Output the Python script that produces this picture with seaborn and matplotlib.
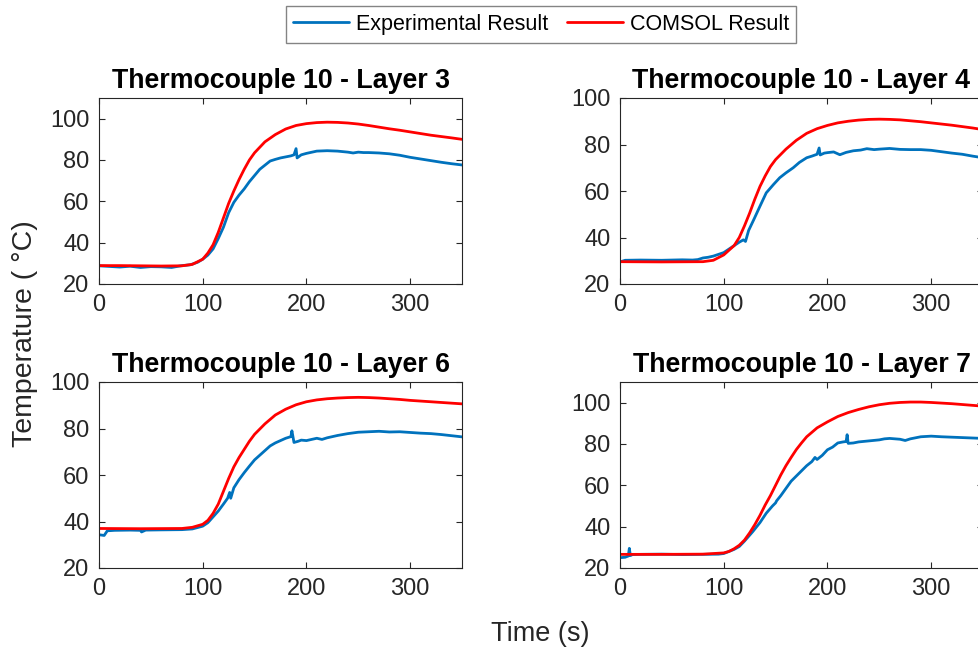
import numpy as np
import pandas as pd
import matplotlib
matplotlib.use("Agg")
import matplotlib.pyplot as plt
import seaborn as sns

# ---------------- data ----------------
titles = ["Thermocouple 10 - Layer 3", "Thermocouple 10 - Layer 4",
          "Thermocouple 10 - Layer 6", "Thermocouple 10 - Layer 7"]
series_names = ["Experimental Result", "COMSOL Result"]
x_ticks = [0, 100, 200, 300]
y_ticks = [20, 40, 60, 80, 100]
y_tops = [110, 100, 100, 110]

# Layer 3
l3_exp_t = [0, 10, 20, 30, 40, 50, 60, 70, 80, 88, 95, 100, 105, 110, 115, 120, 125, 130, 135, 140,
            145, 150, 155, 160, 165, 170, 175, 180, 185, 188, 190, 191, 195, 200, 210, 220, 230, 240,
            245, 250, 255, 260, 270, 280, 290, 300, 310, 320, 330, 340, 350]
l3_exp_T = [28.8, 28.5, 28.2, 28.6, 28.0, 28.4, 28.3, 28.0, 28.9, 29.3, 30.5, 32.0, 34.0, 37.0, 42.0,
            47.5, 54.5, 59.5, 63.0, 66.0, 69.5, 72.5, 75.5, 77.5, 79.5, 80.3, 81.0, 81.5, 82.0, 82.5,
            85.5, 81.0, 82.5, 83.2, 84.3, 84.5, 84.3, 83.8, 83.4, 83.8, 83.6, 83.6, 83.4, 83.0, 82.3,
            81.3, 80.5, 79.7, 78.9, 78.2, 77.6]
l3_sim_t = [0, 20, 40, 60, 80, 90, 100, 105, 110, 115, 120, 125, 130, 135, 140, 145, 150, 160, 170,
            180, 190, 200, 210, 220, 230, 240, 250, 260, 270, 280, 290, 300, 320, 340, 350]
l3_sim_T = [28.9, 28.9, 28.8, 28.7, 28.8, 29.5, 32.0, 35.0, 39.0, 45.0, 52.0, 59.0, 65.0, 70.5, 75.5,
            80.0, 83.5, 88.8, 92.3, 95.0, 96.7, 97.6, 98.1, 98.3, 98.2, 97.9, 97.4, 96.7, 95.9, 95.1,
            94.4, 93.6, 92.0, 90.7, 90.0]

# Layer 4
l4_exp_t = [0, 5, 20, 40, 60, 70, 75, 80, 85, 90, 100, 105, 110, 115, 119, 121, 124, 129, 135, 141,
            148, 154, 160, 167, 173, 180, 185, 190, 192, 193, 197, 200, 206, 212, 218, 225, 232, 238,
            245, 250, 260, 270, 280, 290, 300, 310, 320, 330, 340, 350]
l4_exp_T = [29.5, 30.2, 30.3, 30.2, 30.4, 30.3, 30.5, 31.2, 31.5, 32.0, 33.5, 35.0, 36.5, 38.0, 39.0,
            38.3, 43.0, 47.7, 53.5, 59.2, 62.8, 65.7, 67.8, 70.0, 72.3, 74.3, 75.0, 75.8, 78.5, 75.5,
            76.3, 76.5, 76.8, 75.6, 76.6, 77.3, 77.6, 78.2, 77.8, 78.0, 78.3, 77.9, 77.8, 77.8, 77.5,
            76.9, 76.3, 75.8, 75.0, 74.3]
l4_sim_t = [0, 40, 80, 90, 100, 110, 115, 120, 125, 130, 135, 140, 145, 150, 160, 170, 180, 190, 200,
            210, 220, 230, 240, 250, 260, 270, 280, 290, 300, 320, 340, 350]
l4_sim_T = [29.6, 29.5, 29.6, 30.2, 32.5, 36.5, 40.0, 45.0, 50.5, 56.5, 62.0, 66.5, 70.5, 73.5, 78.0,
            81.8, 84.8, 86.8, 88.2, 89.3, 90.0, 90.5, 90.8, 90.9, 90.8, 90.6, 90.2, 89.8, 89.3, 88.3,
            87.1, 86.4]

# Layer 6
l6_exp_t = [0, 5, 8, 15, 30, 40, 41, 45, 60, 80, 90, 100, 105, 110, 115, 120, 124, 126, 127, 130,
            135, 140, 145, 150, 155, 160, 165, 170, 175, 180, 185, 186, 188, 192, 195, 200, 205, 210,
            215, 220, 230, 240, 250, 260, 270, 280, 290, 300, 310, 320, 330, 340, 350]
l6_exp_T = [34.3, 34.0, 36.0, 36.2, 36.3, 36.2, 35.5, 36.3, 36.4, 36.5, 36.8, 38.0, 39.5, 42.0, 44.5,
            47.5, 50.0, 52.5, 50.0, 54.5, 58.0, 61.0, 63.8, 66.5, 68.5, 70.5, 72.5, 73.8, 74.8, 75.8,
            76.5, 79.0, 74.0, 74.5, 75.0, 74.8, 75.3, 75.8, 75.3, 76.0, 77.0, 77.8, 78.4, 78.6, 78.8,
            78.5, 78.6, 78.3, 78.0, 77.8, 77.4, 76.9, 76.4]
l6_sim_t = [0, 40, 80, 90, 100, 105, 110, 115, 120, 125, 130, 135, 140, 145, 150, 160, 170, 180, 190,
            200, 210, 220, 230, 240, 250, 260, 270, 280, 290, 300, 320, 340, 350]
l6_sim_T = [37.0, 36.9, 37.0, 37.5, 38.8, 40.5, 43.5, 47.5, 53.0, 58.5, 63.5, 67.5, 71.0, 74.5, 77.5,
            82.0, 85.8, 88.3, 90.2, 91.5, 92.3, 92.8, 93.1, 93.3, 93.4, 93.3, 93.1, 92.8, 92.5, 92.1,
            91.5, 90.9, 90.6]

# Layer 7
l7_exp_t = [0, 5, 8, 9, 10, 12, 20, 40, 60, 80, 95, 100, 110, 115, 120, 128, 135, 141, 147, 150, 151,
            155, 160, 165, 170, 175, 180, 185, 188, 190, 195, 200, 205, 210, 215, 218, 219, 220, 225,
            230, 240, 250, 255, 260, 270, 275, 280, 290, 300, 310, 320, 330, 340, 350]
l7_exp_T = [25.0, 25.2, 25.8, 29.5, 26.0, 26.5, 26.6, 26.7, 26.5, 26.6, 26.7, 27.0, 29.0, 30.4, 33.0,
            37.6, 42.0, 46.5, 50.0, 51.5, 52.5, 55.0, 58.5, 62.0, 64.5, 67.0, 69.5, 71.5, 73.5, 72.5,
            74.5, 77.2, 78.5, 80.5, 81.0, 81.2, 84.5, 80.3, 80.5, 81.0, 81.5, 82.0, 82.5, 82.7, 82.3,
            81.7, 82.5, 83.5, 83.8, 83.5, 83.3, 83.1, 82.9, 82.7]
l7_sim_t = [0, 40, 80, 90, 100, 105, 110, 115, 120, 125, 130, 135, 140, 145, 150, 155, 160, 165, 170,
            175, 180, 190, 200, 210, 220, 230, 240, 250, 260, 270, 280, 290, 300, 310, 320, 330, 340, 350]
l7_sim_T = [26.6, 26.6, 26.7, 27.0, 27.3, 28.0, 29.3, 31.0, 33.5, 37.0, 41.0, 45.5, 50.5, 55.0, 60.0,
            65.0, 69.5, 73.5, 77.3, 80.5, 83.5, 87.8, 90.7, 93.3, 95.2, 96.7, 98.0, 99.0, 99.7, 100.1,
            100.3, 100.3, 100.1, 99.8, 99.5, 99.1, 98.7, 98.3]

panels = [
    (l3_exp_t, l3_exp_T, l3_sim_t, l3_sim_T),
    (l4_exp_t, l4_exp_T, l4_sim_t, l4_sim_T),
    (l6_exp_t, l6_exp_T, l6_sim_t, l6_sim_T),
    (l7_exp_t, l7_exp_T, l7_sim_t, l7_sim_T),
]

# ---------------- style ----------------
sns.set_theme(style="white")
plt.rcParams["font.family"] = ["Liberation Sans", "DejaVu Sans"]
dark = "#262626"
plt.rcParams.update({
    "axes.edgecolor": dark, "axes.linewidth": 0.8,
    "xtick.color": dark, "ytick.color": dark,
    "xtick.labelcolor": dark, "ytick.labelcolor": dark,
})
palette = {"Experimental Result": "#0072BD", "COMSOL Result": "#FF0000"}

W, H = 979, 654
fig = plt.figure(figsize=(W / 100, H / 100), dpi=100)

def frac(x0, y_top, x1, y_bot):
    return [x0 / W, 1 - y_bot / H, (x1 - x0) / W, (y_bot - y_top) / H]

rects = [frac(99, 98, 462, 284), frac(620, 98, 983, 284),
         frac(99, 382, 462, 568), frac(620, 382, 983, 568)]

axes = []
for i, (et, eT, st, sT) in enumerate(panels):
    ax = fig.add_axes(rects[i])
    df = pd.concat([
        pd.DataFrame({"Time": et, "Temp": eT, "series": series_names[0]}),
        pd.DataFrame({"Time": st, "Temp": sT, "series": series_names[1]}),
    ], ignore_index=True)
    sns.lineplot(data=df, x="Time", y="Temp", hue="series", palette=palette,
                 estimator=None, sort=False, linewidth=2.0, legend=False, ax=ax)
    ax.set_xlim(0, 350)
    ax.set_ylim(20, y_tops[i])
    ax.set_xticks(x_ticks)
    ax.set_yticks(y_ticks)
    ax.tick_params(direction="in", length=4, width=0.8, labelsize=17, pad=7,
                   top=True, right=True, bottom=True, left=True)
    ax.set_xlabel("")
    ax.set_ylabel("")
    ax.set_title(titles[i], fontsize=19.3, fontweight="bold", color="black", pad=7)
    for s in ax.spines.values():
        s.set_visible(True)
        s.set_color(dark)
    axes.append(ax)

fig.text(25 / W, 1 - 334 / H, "Temperature ( \u00b0C)", rotation=90, ha="center", va="center",
         fontsize=20.5, color=dark)
fig.text(540 / W, 1 - 634 / H, "Time (s)", ha="center", va="center", fontsize=19.5, color=dark)

handles = axes[0].get_lines()[:2]
leg = fig.legend(handles, series_names, loc="center", bbox_to_anchor=(541 / W, 1 - 24.5 / H),
                 ncol=2, fontsize=15.5, frameon=True, fancybox=False, handlelength=2.6,
                 handletextpad=0.3, columnspacing=0.9, borderpad=0.35, borderaxespad=0)
leg.get_frame().set_edgecolor("#666666")
leg.get_frame().set_linewidth(1.0)
for t in leg.get_texts():
    t.set_color("black")

fig.savefig("out.png", dpi=100)
